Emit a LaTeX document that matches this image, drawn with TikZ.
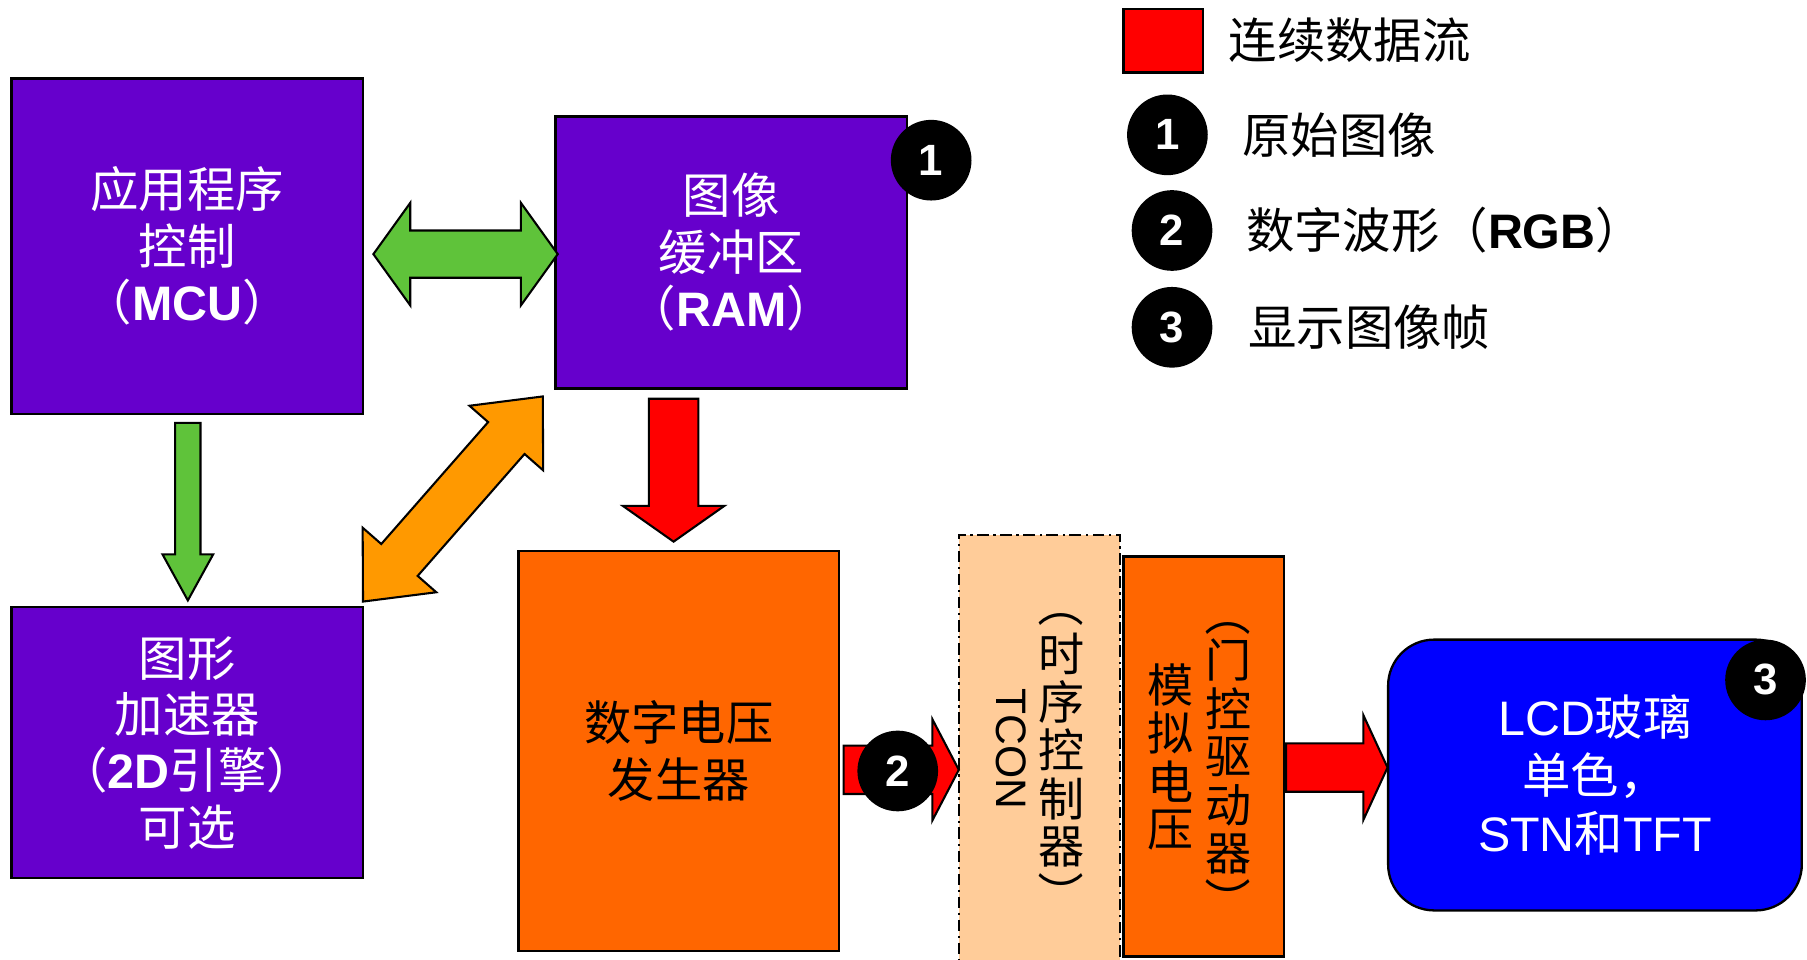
\documentclass[tikz,border=0pt]{standalone}
\usepackage{fontspec}
\setmainfont{Liberation Sans}
\newfontfamily\cjk{Noto Sans CJK SC}
\newfontfamily\lat{Liberation Sans}
\usetikzlibrary{calc}
\definecolor{purp}{HTML}{6600CC}
\definecolor{orgbox}{HTML}{FF6600}
\definecolor{orgarr}{HTML}{FF9900}
\definecolor{grn}{RGB}{95,195,58}
\definecolor{peach}{HTML}{FFCC99}
\definecolor{lcdblue}{HTML}{0000FF}
\definecolor{redf}{HTML}{FF0000}
% double block arrow: style, end A, end B, shaft half width, head half width, head length
\newcommand\dblarrow[6]{%
 \draw[#1] (#2)
 -- ($(#2)!#6!(#3)!#5!90:(#3)$)
 -- ($(#2)!#6!(#3)!#4!90:(#3)$)
 -- ($(#3)!#6!(#2)!#4!-90:(#2)$)
 -- ($(#3)!#6!(#2)!#5!-90:(#2)$)
 -- (#3)
 -- ($(#3)!#6!(#2)!#5!90:(#2)$)
 -- ($(#3)!#6!(#2)!#4!90:(#2)$)
 -- ($(#2)!#6!(#3)!#4!-90:(#3)$)
 -- ($(#2)!#6!(#3)!#5!-90:(#3)$)
 -- cycle;}
% single block arrow: style, tail, tip, shaft half width, head half width, head length
\newcommand\sglarrow[6]{%
 \draw[#1] ($(#2)!#4!90:(#3)$)
 -- ($(#3)!#6!(#2)!#4!-90:(#2)$)
 -- ($(#3)!#6!(#2)!#5!-90:(#2)$)
 -- (#3)
 -- ($(#3)!#6!(#2)!#5!90:(#2)$)
 -- ($(#3)!#6!(#2)!#4!90:(#2)$)
 -- ($(#2)!#4!-90:(#3)$)
 -- cycle;}
\begin{document}
\begin{tikzpicture}[x=1pt,y=-1pt,
  box/.style={draw=black, line width=2pt, inner sep=0pt, align=center},
  pbox/.style={box, fill=purp, text=white, font=\cjk\fontsize{42}{49}\selectfont},
  obox/.style={box, fill=orgbox, text=black},
  badge/.style={circle, fill=black, text=white, minimum size=70pt, inner sep=0pt, font=\lat\bfseries\fontsize{38}{38}\selectfont},
  grnarr/.style={draw=black, line width=1.8pt, fill=grn, line join=miter},
  orarr/.style={draw=black, line width=1.8pt, fill=orgarr, line join=miter},
  redarr/.style={draw=black, line width=1.8pt, fill=redf, line join=miter},
  legtxt/.style={anchor=west, inner sep=0pt, font=\cjk\fontsize{42}{42}\selectfont},
  vch/.style={inner sep=0pt, font=\cjk\fontsize{40}{40}\selectfont}]
\useasboundingbox (0,0) rectangle (1568,833);
\fill[white] (0,0) rectangle (1568,833);

% main blocks
\node[pbox, minimum width=305pt, minimum height=291pt] (mcu) at (162.5,213.5)
  {应用程序\\控制\\（{\lat\bfseries MCU}）};
\node[pbox, minimum width=305pt, minimum height=236pt] (ram) at (634.5,219)
  {图像\\缓冲区\\（{\lat\bfseries RAM}）};
\node[pbox, minimum width=305pt, minimum height=235pt] (gfx) at (162.5,644.5)
  {图形\\加速器\\（{\lat\bfseries 2D}引擎）\\可选};
\node[obox, minimum width=278pt, minimum height=347pt, font=\cjk\fontsize{41}{50}\selectfont] (dvg) at (589,651.5)
  {数字电压\\发生器};
\node[draw=black, line width=1.5pt, dash pattern=on 10pt off 4pt on 2pt off 4pt, fill=peach,
  inner sep=0pt, minimum width=140pt, minimum height=386pt] (tcon) at (902,657) {};
\node[obox, minimum width=139pt, minimum height=347pt] (ana) at (1044.5,656.5) {};
\node[box, fill=lcdblue, text=white, rounded corners=40pt, minimum width=359pt, minimum height=235pt,
  font=\fontsize{42}{50}\selectfont] (lcd) at (1384,672.5)
  {LCD{\cjk 玻璃}\\{\cjk 单色，}\\STN{\cjk 和}TFT};

% vertical texts
\node[rotate=-90, inner sep=0pt, font=\lat\fontsize{37}{37}\selectfont] (tcn) at (877,650) {TCON};
\node[vch] (tcp1) at (921,525) {\rotatebox{-90}{（}};
\foreach \ch/\yy [count=\i] in {时/567,序/609,控/651,制/693,器/735}
  \node[vch] (tcv\i) at (921,\yy) {\ch};
\node[vch] (tcp2) at (921,776) {\rotatebox{-90}{）}};
\foreach \ch/\yy [count=\i] in {模/594,拟/636,电/678,压/720}
  \node[vch] (anv\i) at (1016,\yy) {\ch};
\node[vch] (gdp1) at (1066,532) {\rotatebox{-90}{（}};
\foreach \ch/\yy [count=\i] in {门/573,控/615,驱/657,动/699,器/741}
  \node[vch] (gdv\i) at (1066,\yy) {\ch};
\node[vch] (gdp2) at (1066,781) {\rotatebox{-90}{）}};

% block arrows
\coordinate (gh1) at (324,220.5); \coordinate (gh2) at (484,220.5);
\dblarrow{grnarr}{gh1}{gh2}{20.5pt}{44.5pt}{32pt}
\coordinate (gv1) at (163,367); \coordinate (gv2) at (163,521);
\sglarrow{grnarr}{gv1}{gv2}{11pt}{22pt}{40pt}
\coordinate (od1) at (315,522); \coordinate (od2) at (471,344);
\dblarrow{orarr}{od1}{od2}{21pt}{42.5pt}{48pt}
\coordinate (rd1) at (584.5,346); \coordinate (rd2) at (584.5,470);
\sglarrow{redarr}{rd1}{rd2}{21.5pt}{44pt}{31pt}
\coordinate (r21) at (732,668); \coordinate (r22) at (832,668);
\sglarrow{redarr}{r21}{r22}{21pt}{44pt}{23pt}
\coordinate (r31) at (1116,666); \coordinate (r32) at (1204,666);
\sglarrow{redarr}{r31}{r32}{21pt}{45.5pt}{21pt}

% badges
\node[badge] (b1) at (808,139) {1};
\node[badge] (b2) at (779,669) {2};
\node[badge] (b3) at (1532,590) {3};

% legend
\node[draw=black, line width=2pt, fill=redf, minimum width=69pt, minimum height=55pt, inner sep=0pt] (lsq) at (1009.5,35.5) {};
\node[legtxt] (l0) at (1066,35) {连续数据流};
\node[badge] (lb1) at (1013,117) {1};
\node[legtxt] (l1) at (1078,117) {原始图像};
\node[badge] (lb2) at (1017,200) {2};
\node[legtxt] (l2) at (1081,200) {数字波形（{\lat\bfseries RGB}）};
\node[badge] (lb3) at (1017,284) {3};
\node[legtxt] (l3) at (1083,284) {显示图像帧};
\end{tikzpicture}
\end{document}
